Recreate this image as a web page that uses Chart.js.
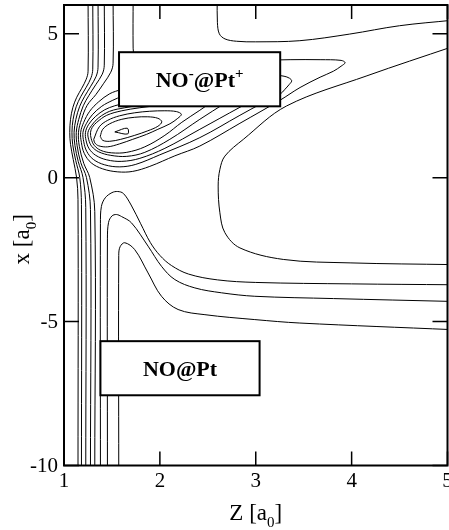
<!DOCTYPE html>
<html>
<head>
<meta charset="utf-8">
<script src="https://cdn.jsdelivr.net/npm/chart.js@4.4.1/dist/chart.umd.min.js"></script>
<style>
  html, body { margin: 0; padding: 0; background: #fff; }
  #wrap { width: 449px; height: 530px; }
</style>
</head>
<body>
<div id="wrap"><canvas id="pes"></canvas></div>
<script>
// Axis ticks
const zTicks = [1, 2, 3, 4, 5];
const xTicks = [5, 0, -5, -10];

// Contour lines, each one a list of [Z, x] points (a0)
// repulsive wall: top edge -> pinch near Z=1.06 -> bottom edge
const wall0 = [[1.251,6.2],[1.251,3.70],[1.232,3.422],[1.185,3.108],[1.133,2.795],[1.093,2.447],[1.068,2.029],[1.060,1.577],[1.068,1.159],[1.096,0.637],[1.131,0.010],[1.146,-0.755],[1.146,-10.2]];
const wall1 = [[1.300,6.2],[1.300,3.770],[1.282,3.474],[1.232,3.143],[1.174,2.812],[1.127,2.464],[1.095,2.029],[1.083,1.577],[1.091,1.142],[1.122,0.602],[1.164,0.010],[1.182,-0.929],[1.182,-10.2]];
const wall2 = [[1.355,6.2],[1.355,3.839],[1.336,3.526],[1.279,3.178],[1.216,2.830],[1.164,2.482],[1.124,2.029],[1.105,1.577],[1.114,1.124],[1.148,0.567],[1.198,0.010],[1.227,-1.034],[1.227,-10.2]];
const wall3 = [[1.420,6.2],[1.420,3.909],[1.399,3.596],[1.331,3.230],[1.258,2.847],[1.201,2.499],[1.154,2.029],[1.128,1.577],[1.137,1.107],[1.174,0.533],[1.234,0.010],[1.276,-1.104],[1.276,-10.2]];
const wall4 = [[1.512,6.2],[1.512,3.978],[1.488,3.665],[1.415,3.282],[1.331,2.882],[1.242,2.517],[1.183,2.029],[1.151,1.577],[1.160,1.089],[1.206,0.498],[1.268,0.010],[1.321,-1.173],[1.321,-10.2]];
const wall5 = [[1.721,6.2],[1.721,4.5],[1.73,4.2]];

// NO-@Pt+ well: closed rings around the minimum
const ring0 = [[1.53,1.59],[1.66,1.72],[1.665,1.52],[1.53,1.59]];
const ring1 = [[1.378,1.438],[1.404,1.681],[1.477,1.873],[1.603,2.029],[1.738,2.099],[1.874,2.116],[1.979,2.064],[2.020,1.942],[1.979,1.786],[1.874,1.629],[1.738,1.472],[1.592,1.333],[1.477,1.264],[1.404,1.298],[1.378,1.438]];
const ring2 = [[1.310,1.333],[1.368,1.768],[1.456,1.994],[1.581,2.151],[1.738,2.255],[1.894,2.308],[2.052,2.325],[2.172,2.297],[2.224,2.203],[2.187,2.064],[2.105,1.873],[1.979,1.681],[1.860,1.504],[1.717,1.333],[1.581,1.176],[1.456,1.072],[1.362,1.107],[1.321,1.211],[1.310,1.333]];

// tongues opening towards the NO- + Pt+ channel (upper right)
const tongue0 = [[1.999,2.517],[1.791,2.430],[1.603,2.325],[1.446,2.168],[1.342,1.925],[1.295,1.751],[1.277,1.577],[1.284,1.350],[1.315,1.124],[1.383,0.950],[1.498,0.863],[1.655,0.881],[1.843,1.072],[2.052,1.472],[2.229,1.925],[2.417,2.343],[2.522,2.586]];
const tongue1 = [[1.791,2.517],[1.634,2.430],[1.477,2.308],[1.362,2.081],[1.289,1.820],[1.250,1.577],[1.258,1.316],[1.289,1.089],[1.362,0.898],[1.488,0.776],[1.655,0.741],[1.843,0.881],[2.104,1.333],[2.417,2.029],[2.678,2.586]];
const tongue2 = [[1.634,2.586],[1.530,2.499],[1.425,2.360],[1.331,2.134],[1.258,1.855],[1.224,1.577],[1.231,1.281],[1.263,1.002],[1.331,0.776],[1.446,0.620],[1.603,0.567],[1.791,0.672],[2.052,1.020],[2.417,1.681],[2.835,2.447],[2.992,2.725]];
const tongue3 = [[1.603,2.826],[1.509,2.691],[1.394,2.482],[1.295,2.186],[1.232,1.873],[1.198,1.577],[1.206,1.246],[1.237,0.915],[1.305,0.637],[1.425,0.446],[1.582,0.376],[1.749,0.463],[1.999,0.794],[2.417,1.392],[2.835,2.168],[3.065,2.586],[3.253,2.899],[3.305,3.073],[3.347,3.230],[3.375,3.362],[3.352,3.456],[3.295,3.526],[3.149,3.596]];
const tongue4 = [[1.603,3.073],[1.477,2.917],[1.362,2.638],[1.268,2.308],[1.206,1.925],[1.174,1.577],[1.181,1.229],[1.211,0.846],[1.284,0.515],[1.404,0.306],[1.561,0.202],[1.717,0.219],[1.895,0.393],[2.156,0.759],[2.417,1.100],[2.835,1.890],[3.253,2.691],[3.462,3.133],[3.671,3.491],[3.81,3.700],[3.890,3.874],[3.932,3.996],[3.890,4.076],[3.671,4.100],[3.358,4.100],[3.149,4.083]];

// outer contours
const topRight = [[2.598,6.2],[2.60,5.4],[2.62,5.0],[2.68,4.82],[2.80,4.74],[3.0,4.72],[3.46,4.76],[3.98,4.99],[4.5,5.28],[5.05,5.47]];
const wedge = [[5.05,4.55],[4.16,3.54],[3.32,2.49],[2.87,1.33],[2.678,0.75],[2.626,0.29],[2.608,-0.29],[2.626,-1.22],[2.678,-1.91],[2.835,-2.44],[3.287,-2.84],[3.984,-2.96],[5.05,-3.02]];

// NO@Pt side: hairpins
const hair1 = [[1.38,-10.2],[1.38,-1.6],[1.39,-1.0],[1.43,-0.7],[1.5,-0.52],[1.56,-0.48],[1.62,-0.55],[1.70,-0.95],[1.80,-1.6],[1.90,-2.25],[2.0,-2.7],[2.12,-3.05],[2.3,-3.35],[2.6,-3.55],[3.0,-3.64],[4.0,-3.69],[5.05,-3.72]];
const hair2 = [[1.453,-10.2],[1.453,-2.1],[1.465,-1.55],[1.50,-1.33],[1.547,-1.28],[1.60,-1.35],[1.704,-1.57],[1.877,-2.38],[2.017,-3.08],[2.156,-3.54],[2.365,-3.83],[2.644,-4.0],[2.99,-4.12],[3.81,-4.2],[5.05,-4.30]];
const hair3 = [[1.571,-10.2],[1.571,-2.7],[1.585,-2.4],[1.634,-2.26],[1.738,-2.50],[1.877,-3.31],[2.017,-4.12],[2.19,-4.58],[2.47,-4.76],[2.99,-4.93],[3.46,-5.05],[5.05,-5.28]];

const contours = [wall0, wall1, wall2, wall3, wall4, wall5, ring0, ring1, ring2,
  tongue0, tongue1, tongue2, tongue3, tongue4, topRight, wedge, hair1, hair2, hair3];

// label boxes: corners in data units, text pieces (0 normal, 1 sup, -1 sub)
const boxes = [
  { z0: 1.574, z1: 3.255, xTop: 4.36, xBot: 2.48, parts: [['NO', 0], ['-', 1], ['@Pt', 0], ['+', 1]] },
  { z0: 1.38, z1: 3.04, xTop: -5.68, xBot: -7.56, parts: [['NO@Pt', 0]] }
];

const SERIF = '"Liberation Serif", "Times New Roman", serif';

function drawRich(ctx, parts, x, y, size, bold) {
  const w = bold ? 'bold ' : '';
  const big = w + size + 'px ' + SERIF;
  const small = w + Math.round(size * 0.66) + 'px ' + SERIF;
  let total = 0;
  parts.forEach(([t, s]) => {
    ctx.font = s === 0 ? big : small;
    total += ctx.measureText(t).width;
  });
  let cx = x - total / 2;
  ctx.textAlign = 'left';
  ctx.textBaseline = 'alphabetic';
  parts.forEach(([t, s]) => {
    ctx.font = s === 0 ? big : small;
    const dy = s === 1 ? -size * 0.42 : (s === -1 ? size * 0.3 : 0);
    ctx.fillText(t, cx, y + dy);
    cx += ctx.measureText(t).width;
  });
}

const framePlugin = {
  id: 'frame',
  afterDatasetsDraw(chart) {
    const ctx = chart.ctx;
    const a = chart.chartArea;
    const sx = chart.scales.x, sy = chart.scales.y;
    ctx.save();

    // label boxes sit on top of the contours
    boxes.forEach(b => {
      const l = sx.getPixelForValue(b.z0), r = sx.getPixelForValue(b.z1);
      const t = sy.getPixelForValue(b.xTop), bt = sy.getPixelForValue(b.xBot);
      ctx.fillStyle = '#fff';
      ctx.fillRect(l, t, r - l, bt - t);
      ctx.strokeStyle = '#000';
      ctx.lineWidth = 2;
      ctx.strokeRect(l, t, r - l, bt - t);
      ctx.fillStyle = '#000';
      drawRich(ctx, b.parts, (l + r) / 2, (t + bt) / 2 + 7.5, 22, true);
    });

    // frame
    ctx.strokeStyle = '#000';
    ctx.lineWidth = 2;
    ctx.strokeRect(a.left, a.top, a.right - a.left, a.bottom - a.top);

    // inward ticks on all four sides
    ctx.lineWidth = 1.5;
    ctx.beginPath();
    zTicks.forEach(v => {
      const px = sx.getPixelForValue(v);
      ctx.moveTo(px, a.bottom); ctx.lineTo(px, a.bottom - 14);
      ctx.moveTo(px, a.top); ctx.lineTo(px, a.top + 14);
    });
    xTicks.forEach(v => {
      const py = sy.getPixelForValue(v);
      ctx.moveTo(a.left, py); ctx.lineTo(a.left + 15, py);
      ctx.moveTo(a.right, py); ctx.lineTo(a.right - 15, py);
    });
    ctx.stroke();

    // tick labels
    ctx.fillStyle = '#000';
    ctx.font = '21px ' + SERIF;
    ctx.textAlign = 'center';
    ctx.textBaseline = 'top';
    zTicks.forEach(v => ctx.fillText(String(v), sx.getPixelForValue(v), a.bottom + 5));
    ctx.textAlign = 'right';
    ctx.textBaseline = 'middle';
    xTicks.forEach(v => ctx.fillText(String(v), a.left - 6, sy.getPixelForValue(v) + 1));

    // axis titles
    drawRich(ctx, [['Z [a', 0], ['0', -1], [']', 0]], (a.left + a.right) / 2, 520, 23, false);
    ctx.translate(29, (a.top + a.bottom) / 2 + 4);
    ctx.rotate(-Math.PI / 2);
    drawRich(ctx, [['x [a', 0], ['0', -1], [']', 0]], 0, 0, 23, false);
    ctx.restore();
  }
};

new Chart(document.getElementById('pes'), {
  type: 'scatter',
  data: {
    datasets: contours.map(c => ({
      data: c.map(([z, x]) => ({ x: z, y: x })),
      showLine: true,
      borderColor: '#000',
      borderWidth: 1,
      pointRadius: 0,
      tension: 0.35,
      fill: false
    }))
  },
  options: {
    responsive: true,
    maintainAspectRatio: false,
    animation: false,
    layout: { padding: { left: 64, right: 1.5, top: 5, bottom: 64.5 } },
    plugins: { legend: { display: false }, tooltip: { enabled: false } },
    scales: {
      x: { type: 'linear', min: 1, max: 5, display: false },
      y: { type: 'linear', min: -10, max: 6, display: false }
    }
  },
  plugins: [framePlugin]
});
</script>
</body>
</html>
